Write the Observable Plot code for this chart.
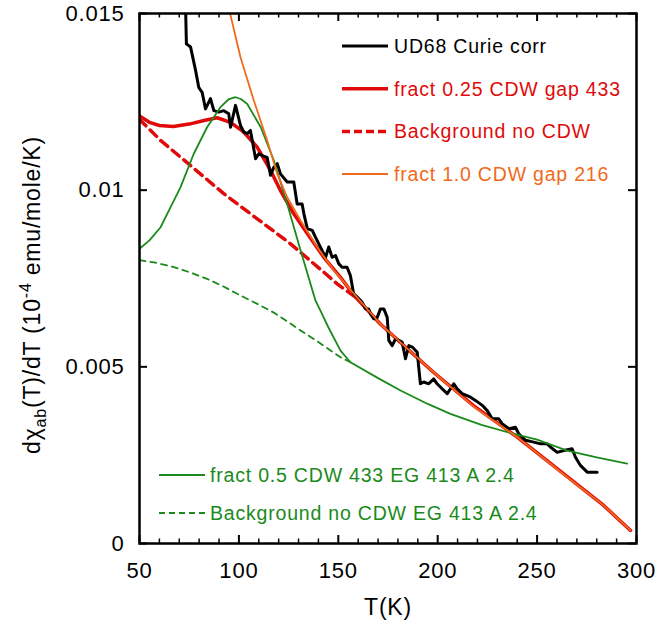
<!DOCTYPE html>
<html><head><meta charset="utf-8">
<script src="https://cdn.jsdelivr.net/npm/d3@7"></script>
<script src="https://cdn.jsdelivr.net/npm/@observablehq/plot@0.6"></script>
<style>
body{margin:0;background:#fff}
#chart svg text{letter-spacing:0.8px}
</style>
</head><body><div id="chart"></div>
<script>
// ---- data ----
const xMajor = [50, 100, 150, 200, 250, 300];
const xMinor = [60,70,80,90,110,120,130,140,160,170,180,190,210,220,230,240,260,270,280,290];
const yMajor = [0, 0.005, 0.01, 0.015];

const udT = [73,73.6,75.7,78.2,79.8,81.5,83.2,85.7,87.4,89.9,92.4,94.9,95.8,98.3,100.8,102.5,104.2,105.8,108.4,110,111.7,114.2,115.9,117.6,119.3,120.9,124.3,127.6,129.3,131.8,132.7,134.4,136.9,138.5,141,143.6,145.2,146.9,148.6,150.2,151.9,154.4,156.1,157.7,160.3,162,163.7,165.3,166.2,167.9,169.6,171.2,172.9,174.6,175.4,177.1,178.8,180.4,182.1,183.8,185.5,187.2,189.7,191.3,193,195.5,198,199.7,202.2,204.8,208.1,209.8,212.3,216.5,219,222.4,224.9,227.4,230.7,232.4,235.8,239.1,240.8,244.2,248.3,251.7,255.1,256.7,260.1,263.4,267.6,269.3,271.8,275.2,280.2];
const udV = [0.0156,0.01414,0.01405,0.01339,0.01291,0.01277,0.0123,0.01259,0.01225,0.01221,0.01225,0.01216,0.01178,0.0124,0.01183,0.01164,0.0116,0.01169,0.01089,0.01103,0.01098,0.01093,0.01042,0.01065,0.01075,0.01046,0.01023,0.01023,0.00961,0.00961,0.00933,0.00891,0.00886,0.00867,0.00839,0.0081,0.00839,0.0081,0.00815,0.00792,0.00782,0.00782,0.00758,0.00707,0.00693,0.00683,0.00664,0.00664,0.0065,0.00636,0.0064,0.00664,0.00664,0.0064,0.00575,0.0056,0.00579,0.00575,0.0057,0.00523,0.0056,0.00556,0.00541,0.00452,0.00457,0.00452,0.00466,0.00452,0.00438,0.00424,0.00452,0.00438,0.00424,0.00414,0.00405,0.00391,0.00376,0.00353,0.00353,0.00339,0.00325,0.00329,0.0031,0.00292,0.00287,0.00282,0.00282,0.00273,0.00258,0.00263,0.00268,0.00244,0.00221,0.00202,0.00202];

const redT = [50,55,60,67,75,83,89,95.8,102.5,109.2,115.9,120.9,127.6,134.4,142.7,151,158,171,185,198,218,240,265,283,297];
const redV = [0.0121,0.01192,0.01183,0.0118,0.01187,0.01198,0.01205,0.01192,0.01164,0.01122,0.01056,0.00999,0.00933,0.00877,0.0081,0.00754,0.00702,0.00622,0.0055,0.00484,0.0039,0.00301,0.0019,0.0011,0.00037];

const redBgT = [50,60.6,75.6,92.4,109.2,126,142.7,149.4,156,160];
const redBgV = [0.012,0.01141,0.0107,0.0099,0.00919,0.00848,0.00768,0.00735,0.00708,0.00692];

const orT = [93,95.4,100.8,107.5,114.2,119.3,124.3,131,139.4,147.7,157.8,171,185,198,218,240,265,283,297];
const orV = [0.0156,0.01504,0.01376,0.01254,0.01141,0.01046,0.0098,0.00914,0.00839,0.00773,0.00707,0.00622,0.0055,0.00484,0.00388,0.00301,0.00188,0.0011,0.00037];

const grT = [50,55,60.6,65,70.6,77.3,84,90.7,95,98.3,101,104.2,111,117.6,124.3,131,138.5,141,145,151.1,156.1,170,181.3,195,206.4,222,238.3,250,265.1,280,295.3];
const grV = [0.00834,0.00858,0.00895,0.00945,0.01008,0.01103,0.01178,0.01235,0.01258,0.01263,0.01258,0.01244,0.01178,0.01084,0.00961,0.0083,0.00688,0.00659,0.00612,0.00546,0.00513,0.00468,0.00433,0.00395,0.00367,0.00336,0.0031,0.00294,0.00263,0.00244,0.00226];

const grBgT = [50,58,67.3,75,84,92,100.8,110,118,125,131,140,151.1,156.1];
const grBgV = [0.00802,0.00795,0.00782,0.00768,0.00749,0.00728,0.00702,0.00676,0.00652,0.00626,0.00603,0.0057,0.00527,0.00513];

const RED = "#e00a0a", ORANGE = "#f06a1c", GREEN = "#1b8a1b";

const legendTop = [
  {name: "UD68 Curie corr", color: "black", width: 3, dash: null},
  {name: "fract 0.25 CDW gap 433", color: RED, width: 3.5, dash: null},
  {name: "Background no CDW", color: RED, width: 3.5, dash: "8,4"},
  {name: "fract 1.0 CDW gap 216", color: ORANGE, width: 2, dash: null}
];
const legendBottom = [
  {name: "fract 0.5 CDW 433 EG 413 A 2.4", color: GREEN, width: 2, dash: null},
  {name: "Background no CDW EG 413 A 2.4", color: GREEN, width: 2, dash: "6,4"}
];

const toRows = (T, V) => T.map((t, i) => ({T: t, v: V[i]}));

// ---- layout ----
const W = 658, H = 625, mL = 139, mR = 22, mT = 13, mB = 82;
const innerW = W - mL - mR, innerH = H - mT - mB;
const FONT = "'Liberation Sans', Arial, Helvetica, sans-serif";

const chart = Plot.plot({
  width: W, height: H,
  marginLeft: mL, marginRight: mR, marginTop: mT, marginBottom: mB,
  style: {fontFamily: FONT, fontSize: "22px", background: "white", color: "black"},
  x: {domain: [50, 300], label: null},
  y: {domain: [0, 0.015], label: null},
  marks: [
    Plot.line(toRows(grBgT, grBgV), {x: "T", y: "v", stroke: GREEN, strokeWidth: 1.8, strokeDasharray: "6,5", clip: true}),
    Plot.line(toRows(redBgT, redBgV), {x: "T", y: "v", stroke: RED, strokeWidth: 3.5, strokeDasharray: "9,6", clip: true}),
    Plot.line(toRows(redT, redV), {x: "T", y: "v", stroke: RED, strokeWidth: 3.5, clip: true}),
    Plot.line(toRows(udT, udV), {x: "T", y: "v", stroke: "black", strokeWidth: 3, clip: true}),
    Plot.line(toRows(grT, grV), {x: "T", y: "v", stroke: GREEN, strokeWidth: 1.8, clip: true}),
    Plot.line(toRows(orT, orV), {x: "T", y: "v", stroke: ORANGE, strokeWidth: 1.8, clip: true}),
    // inward ticks
    Plot.tickX(xMajor, {x: d => d, insetTop: innerH - 8, strokeWidth: 2}),
    Plot.tickX(xMinor, {x: d => d, insetTop: innerH - 4.5, strokeWidth: 1.5}),
    Plot.tickX(xMajor, {x: d => d, insetBottom: innerH - 8, strokeWidth: 2}),
    Plot.tickX(xMinor, {x: d => d, insetBottom: innerH - 4.5, strokeWidth: 1.5}),
    Plot.tickY(yMajor, {y: d => d, insetRight: innerW - 8, strokeWidth: 2}),
    Plot.tickY(yMajor, {y: d => d, insetLeft: innerW - 8, strokeWidth: 2}),
    Plot.frame({stroke: "black", strokeWidth: 2.5}),
    Plot.axisX({ticks: xMajor, tickSize: 0, tickPadding: 19, fontSize: 22, tickFormat: d => String(d)}),
    Plot.axisY({ticks: yMajor, tickSize: 0, tickPadding: 15, fontSize: 22, tickFormat: d => String(d)})
  ]
});
document.getElementById("chart").appendChild(chart);

// ---- legends and axis titles ----
const svg = d3.select(chart);
function drawLegend(items, x0, x1, xt, y0, dy) {
  items.forEach((d, i) => {
    const y = y0 + i * dy;
    svg.append("line").attr("x1", x0).attr("x2", x1).attr("y1", y).attr("y2", y)
      .attr("stroke", d.color).attr("stroke-width", d.width)
      .attr("stroke-dasharray", d.dash);
    svg.append("text").attr("x", xt).attr("y", y).attr("dy", "0.36em")
      .attr("text-anchor", "start")
      .attr("fill", d.color).attr("font-size", 19.5).attr("font-family", FONT)
      .text(d.name);
  });
}
drawLegend(legendTop, 342, 388, 394, 46, 42.7);
drawLegend(legendBottom, 159, 205, 210, 475, 38);

svg.append("text").attr("x", 388).attr("y", 615).attr("text-anchor", "middle")
  .attr("font-size", 23).attr("font-family", FONT).attr("fill", "black").text("T(K)");

const yl = svg.append("text").attr("transform", "translate(40,295) rotate(-90)")
  .attr("text-anchor", "middle").attr("font-size", 23).attr("font-family", FONT).attr("fill", "black");
yl.append("tspan").text("dχ");
yl.append("tspan").attr("dy", 6).attr("font-size", 16).text("ab");
yl.append("tspan").attr("dy", -6).text("(T)/dT (10");
yl.append("tspan").attr("dy", -9).attr("font-size", 16).text("-4");
yl.append("tspan").attr("dy", 9).text(" emu/mole/K)");
</script>
</body></html>
